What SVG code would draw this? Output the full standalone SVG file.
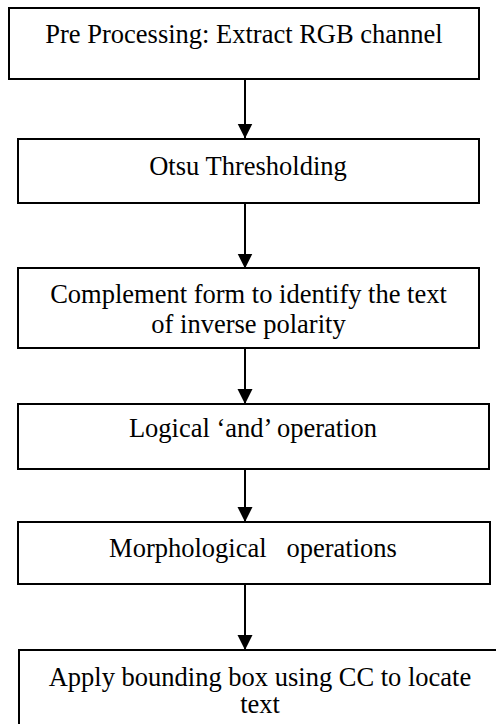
<svg xmlns="http://www.w3.org/2000/svg" width="496" height="724" viewBox="0 0 496 724">
<style>
.box{fill:#fff;stroke:#000;stroke-width:2}
.t{font-family:"Liberation Serif","Times New Roman",serif;font-size:26.5px;fill:#000;text-anchor:middle;white-space:pre}
.c{stroke:#000;stroke-width:2;fill:none}
</style>
<defs>
<marker id="ah" markerUnits="userSpaceOnUse" markerWidth="16" markerHeight="16" refX="15" refY="7.5" orient="auto">
<path d="M0,0 L15,7.5 L0,15 Z" fill="#000"/>
</marker>
</defs>
<rect width="496" height="724" fill="#fff"/>
<g id="connectors">
<line class="c" x1="245" y1="79" x2="245" y2="138.5" marker-end="url(#ah)"/>
<line class="c" x1="245" y1="203" x2="245" y2="268.5" marker-end="url(#ah)"/>
<line class="c" x1="245" y1="348" x2="245" y2="404" marker-end="url(#ah)"/>
<line class="c" x1="245" y1="469" x2="245" y2="522" marker-end="url(#ah)"/>
<line class="c" x1="245" y1="584" x2="245" y2="650" marker-end="url(#ah)"/>
</g>
<g id="n1">
<rect class="box" x="9" y="8" width="470" height="71"/>
<text class="t" x="244" y="43">Pre Processing: Extract RGB channel</text>
</g>
<g id="n2">
<rect class="box" x="18" y="139" width="461" height="64"/>
<text class="t" x="248" y="175">Otsu Thresholding</text>
</g>
<g id="n3">
<rect class="box" x="18" y="268" width="461" height="80"/>
<text class="t" x="248.5" y="303">Complement form to identify the text</text>
<text class="t" x="248.5" y="333">of inverse polarity</text>
</g>
<g id="n4">
<rect class="box" x="18" y="404" width="471" height="65"/>
<text class="t" x="253" y="437">Logical ‘and’ operation</text>
</g>
<g id="n5">
<rect class="box" x="18" y="522" width="472" height="62"/>
<text class="t" x="253" y="557">Morphological   operations</text>
</g>
<g id="n6">
<rect class="box" x="19" y="650" width="490" height="90"/>
<text class="t" x="260" y="686">Apply bounding box using CC to locate</text>
<text class="t" x="260" y="713">text</text>
</g>
</svg>
